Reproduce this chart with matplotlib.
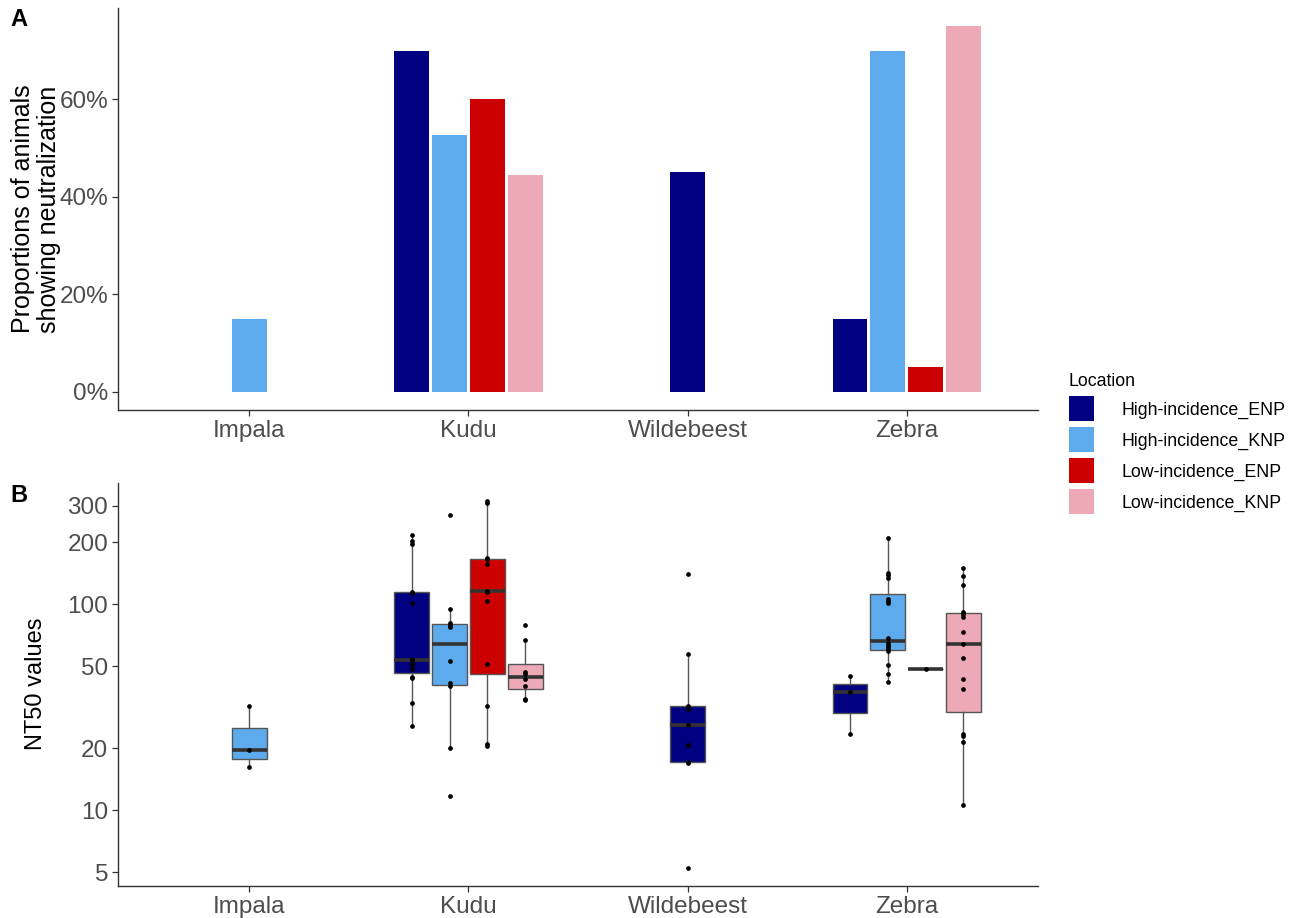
import numpy as np
import matplotlib
matplotlib.use("Agg")
import matplotlib.pyplot as plt
from matplotlib.patches import Patch
from matplotlib import cbook

plt.rcParams['font.family'] = ['Liberation Sans', 'DejaVu Sans']

species = ["Impala", "Kudu", "Wildebeest", "Zebra"]
locations = ["High-incidence_ENP", "High-incidence_KNP", "Low-incidence_ENP", "Low-incidence_KNP"]
colors = ["#000080", "#5DABEC", "#CC0000", "#EDA9B5"]

# proportion of animals neutralizing (%), None = group not sampled
prop_impala = [None, 15, None, None]
prop_kudu = [70, 52.6, 60, 44.4]
prop_wildebeest = [45, None, None, None]
prop_zebra = [15, 70, 5, 75]
proportions = [prop_impala, prop_kudu, prop_wildebeest, prop_zebra]

# NT50 titres of the positive animals
nt50_impala_knp = [16.2, 19.5, 32]
nt50_kudu_enp = [25.6, 33.2, 44, 44.3, 48.7, 50.4, 51.9, 53.5, 54.4, 101, 113, 115, 196, 202, 216]
nt50_kudu_knp = [11.7, 20, 40.1, 41.6, 53.2, 77.3, 78.8, 80.6, 94.6, 270]
nt50_kudu_low_enp = [20.5, 21, 32.2, 51.5, 104, 115, 116, 157, 165, 168, 309, 315]
nt50_kudu_low_knp = [34.1, 34.6, 40.1, 43.1, 45.7, 46.6, 67, 79.3]
nt50_wildebeest_enp = [5.27, 16.9, 17.2, 20.7, 25.9, 30.9, 32.2, 57.2, 140]
nt50_zebra_enp = [23.4, 37.4, 44.8]
nt50_zebra_knp = [41.9, 46, 50.9, 59.2, 60.5, 61.6, 63.2, 64.4, 68.7, 101, 104, 106, 134, 138, 141, 208]
nt50_zebra_low_enp = [48.3]
nt50_zebra_low_knp = [10.6, 21.5, 22.8, 23.4, 38.7, 43.4, 54.7, 63.9, 73.1, 86.7, 89.3, 91.4, 124, 137, 149]

nt50 = [
    [None, nt50_impala_knp, None, None],
    [nt50_kudu_enp, nt50_kudu_knp, nt50_kudu_low_enp, nt50_kudu_low_knp],
    [nt50_wildebeest_enp, None, None, None],
    [nt50_zebra_enp, nt50_zebra_knp, nt50_zebra_low_enp, nt50_zebra_low_knp],
]

slot = 0.173
width = 0.157


def dodge(row):
    # centre the groups that exist within each species
    present = [j for j, v in enumerate(row) if v is not None]
    k = len(present)
    return {j: (i - (k - 1) / 2) * slot for i, j in enumerate(present)}


def style(ax):
    for s in ["top", "right"]:
        ax.spines[s].set_visible(False)
    for s in ["left", "bottom"]:
        ax.spines[s].set_color("#333333")
        ax.spines[s].set_linewidth(1.0)
    ax.tick_params(axis="both", colors="#333333", labelcolor="#4D4D4D",
                   labelsize=17.5, length=4, width=0.9, pad=3)
    ax.set_xticks(range(len(species)))
    ax.set_xticklabels(species)
    ax.set_xlim(-0.6, len(species) - 0.4)


fig = plt.figure(figsize=(12.99, 9.18), dpi=100)
axA = fig.add_axes([118 / 1299, 1 - 410 / 918, 920 / 1299, 402 / 918])
axB = fig.add_axes([118 / 1299, 1 - 886 / 918, 920 / 1299, 403 / 918])

# ---- A: bar chart of proportions
for i, row in enumerate(proportions):
    offs = dodge(row)
    for j, off in offs.items():
        axA.bar(i + off, row[j], width=width, color=colors[j], linewidth=0)

ymax = max(v for row in proportions for v in row if v is not None)
axA.set_ylim(-0.05 * ymax, 1.05 * ymax)
axA.set_yticks([0, 20, 40, 60])
axA.set_yticklabels(["0%", "20%", "40%", "60%"])
style(axA)

# ---- B: boxplots of NT50 on log scale
allvals = []
for i, row in enumerate(nt50):
    offs = dodge(row)
    for j, off in offs.items():
        vals = np.array(row[j], dtype=float)
        allvals.extend(vals)
        st = cbook.boxplot_stats(np.log10(vals))[0]
        for key in ["med", "q1", "q3", "whislo", "whishi", "mean"]:
            st[key] = 10 ** st[key]
        st["fliers"] = []
        axB.bxp([st], positions=[i + off], widths=width, patch_artist=True,
                showcaps=False, showfliers=False, showmeans=False,
                boxprops=dict(facecolor=colors[j], edgecolor="#555555", linewidth=1.0),
                whiskerprops=dict(color="#555555", linewidth=1.0),
                medianprops=dict(color="#333333", linewidth=2.6, solid_capstyle="butt"),
                zorder=2)
        axB.plot(np.full(len(vals), i + off), vals, "o", color="black",
                 markersize=3.4, markeredgewidth=0, zorder=3)

axB.set_yscale("log")
lo, hi = np.log10(min(allvals)), np.log10(max(allvals))
pad = 0.05 * (hi - lo)
axB.set_ylim(10 ** (lo - pad), 10 ** (hi + pad))
yt = [5, 10, 20, 50, 100, 200, 300]
axB.set_yticks(yt)
axB.set_yticklabels([str(v) for v in yt])
axB.yaxis.set_minor_locator(matplotlib.ticker.NullLocator())
style(axB)

# labels
fig.text(36 / 1299, 1 - 209 / 918, "Proportions of animals\nshowing neutralization",
         rotation=90, ha="center", va="center", fontsize=18, multialignment="center",
         linespacing=1.12)
fig.text(36 / 1299, 1 - 684 / 918, "NT50 values", rotation=90, ha="center",
         va="center", fontsize=17)
fig.text(10 / 1299, 1 - 20 / 918, "A", fontsize=17, fontweight="bold", va="center")
fig.text(10 / 1299, 1 - 495 / 918, "B", fontsize=17, fontweight="bold", va="center")

handles = [Patch(facecolor=c, edgecolor="none") for c in colors]
fig.legend(handles, locations, title="Location", loc="upper left",
           bbox_to_anchor=(1053 / 1299, 1 - 357 / 918), frameon=False,
           fontsize=12.8, title_fontsize=12.8, handlelength=1.4, handleheight=1.75,
           labelspacing=0.36, handletextpad=1.55, alignment="left")

fig.savefig("out.png", dpi=100)
